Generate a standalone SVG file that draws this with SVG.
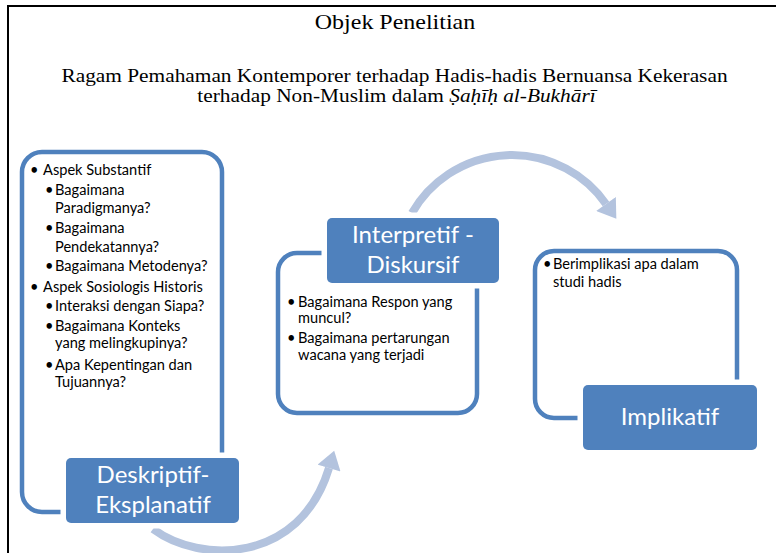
<svg xmlns="http://www.w3.org/2000/svg" width="776" height="553" viewBox="0 0 776 553">
<defs>
<marker id="ah" markerUnits="userSpaceOnUse" markerWidth="20" markerHeight="24" refX="0" refY="10" orient="auto" viewBox="0 0 16 20">
<path d="M0,0 L15,10 L0,20 z" fill="#b3c3de"/>
</marker>
<style>
.ttl{font-family:"Liberation Serif","Times New Roman",serif;font-size:19.5px;fill:#000;text-anchor:middle}
.box{fill:none;stroke:#4f81bd;stroke-width:4.5}
.lab{fill:#4f81bd;stroke:#fff;stroke-width:11;paint-order:stroke}
.lt{font-family:Lato,"Liberation Sans",sans-serif;font-size:24px;fill:#fff;text-anchor:middle}
.bt{font-family:Lato,"Liberation Sans",sans-serif;font-size:14.6px;fill:#000}
.arc{fill:none;stroke:#b3c3de;stroke-width:8}
</style>
</defs>
<rect width="776" height="553" fill="#fff"/>
<path d="M8,553 V6 H776" fill="none" stroke="#000" stroke-width="2"/>
<g id="title">
<text class="ttl" transform="translate(395,29) scale(1.09,1)" style="font-size:22px">Objek Penelitian</text>
<text class="ttl" transform="translate(394.5,82) scale(1.095,1)">Ragam Pemahaman Kontemporer terhadap Hadis-hadis Bernuansa Kekerasan</text>
<text class="ttl" transform="translate(396.5,102) scale(1.095,1)">terhadap Non-Muslim dalam <tspan font-style="italic">Ṣaḥīḥ al-Bukhārī</tspan></text>
</g>
<g id="connectors">
<path class="arc" d="M412,213 A115,115 0 0 1 606,204" marker-end="url(#ah)"/>
<path class="arc" d="M153,529 C200,564 300,564 329,468" marker-end="url(#ah)"/>
</g>
<g id="node-deskriptif">
<rect class="box" x="22" y="152" width="200" height="360" rx="20"/>
<rect class="lab" x="66" y="458" width="173" height="65" rx="5"/>
<text class="lt" x="153" y="483">Deskriptif-</text>
<text class="lt" x="153" y="513">Eksplanatif</text>
<g class="bt">
<text x="30" y="175">•</text><text x="43" y="175">Aspek Substantif</text>
<text x="45" y="195">•</text><text x="55" y="195">Bagaimana</text>
<text x="55" y="213">Paradigmanya?</text>
<text x="45" y="233">•</text><text x="55" y="233">Bagaimana</text>
<text x="55" y="252">Pendekatannya?</text>
<text x="45" y="271">•</text><text x="55" y="271">Bagaimana Metodenya?</text>
<text x="30" y="292">•</text><text x="43" y="292">Aspek Sosiologis Historis</text>
<text x="45" y="311">•</text><text x="55" y="311">Interaksi dengan Siapa?</text>
<text x="45" y="331">•</text><text x="55" y="331">Bagaimana Konteks</text>
<text x="55" y="348">yang melingkupinya?</text>
<text x="45" y="370">•</text><text x="55" y="370">Apa Kepentingan dan</text>
<text x="55" y="387">Tujuannya?</text>
</g>
</g>
<g id="node-interpretif">
<rect class="box" x="278" y="253" width="199" height="160" rx="19"/>
<rect class="lab" x="327" y="218" width="172" height="65" rx="5"/>
<text class="lt" x="413" y="243">Interpretif -</text>
<text class="lt" x="413" y="273">Diskursif</text>
<g class="bt">
<text x="287" y="307">•</text><text x="298" y="307">Bagaimana Respon yang</text>
<text x="298" y="323">muncul?</text>
<text x="287" y="343">•</text><text x="298" y="343">Bagaimana pertarungan</text>
<text x="298" y="360">wacana yang terjadi</text>
</g>
</g>
<g id="node-implikatif">
<rect class="box" x="535" y="251" width="202" height="167" rx="19"/>
<rect class="lab" x="583" y="385" width="174" height="65" rx="5"/>
<text class="lt" x="670" y="425">Implikatif</text>
<g class="bt">
<text x="543" y="269">•</text><text x="553" y="269">Berimplikasi apa dalam</text>
<text x="553" y="287">studi hadis</text>
</g>
</g>
</svg>
